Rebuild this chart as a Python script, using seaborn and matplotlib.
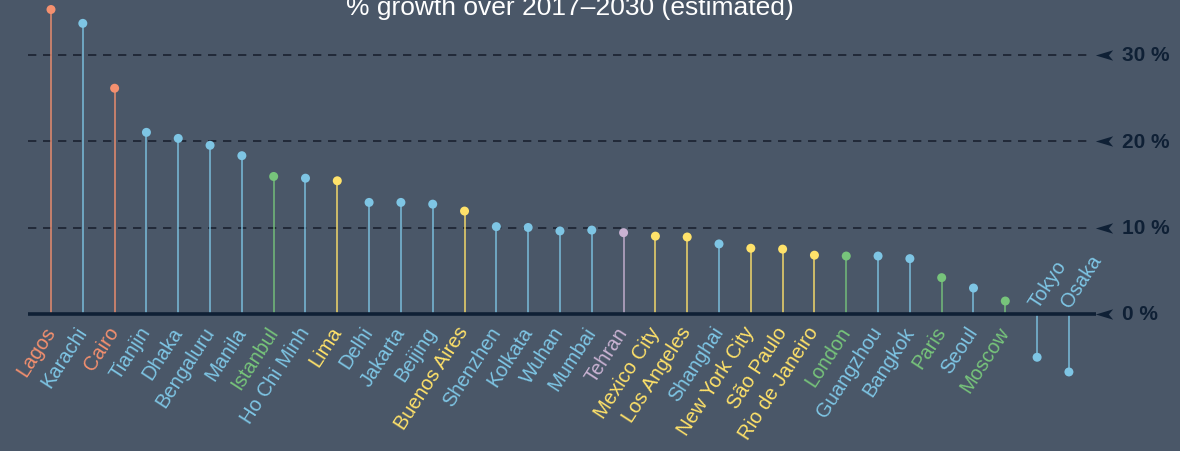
import numpy as np
import pandas as pd
import seaborn as sns
import matplotlib.pyplot as plt
from matplotlib.path import Path

# ==========================================
# DATA
# ==========================================
cities = ['Lagos', 'Karachi', 'Cairo', 'Tianjin', 'Dhaka', 'Bengaluru', 'Manila',
          'Istanbul', 'Ho Chi Minh', 'Lima', 'Delhi', 'Jakarta', 'Beijing',
          'Buenos Aires', 'Shenzhen', 'Kolkata', 'Wuhan', 'Mumbai', 'Tehran',
          'Mexico City', 'Los Angeles', 'Shanghai', 'New York City', 'São Paulo',
          'Rio de Janeiro', 'London', 'Guangzhou', 'Bangkok', 'Paris', 'Seoul',
          'Moscow', 'Tokyo', 'Osaka']
growth = [35.2, 33.6, 26.1, 21.0, 20.3, 19.5, 18.3,
          15.9, 15.7, 15.4, 12.9, 12.9, 12.7,
          11.9, 10.1, 10.0, 9.6, 9.7, 9.4,
          9.0, 8.9, 8.1, 7.6, 7.5,
          6.8, 6.7, 6.7, 6.4, 4.2, 3.0,
          1.5, -5.0, -6.7]
region = ['Africa', 'Asia', 'Africa', 'Asia', 'Asia', 'Asia', 'Asia',
          'Europe', 'Asia', 'Americas', 'Asia', 'Asia', 'Asia',
          'Americas', 'Asia', 'Asia', 'Asia', 'Asia', 'Middle East',
          'Americas', 'Americas', 'Asia', 'Americas', 'Americas',
          'Americas', 'Europe', 'Asia', 'Asia', 'Europe', 'Asia',
          'Europe', 'Asia', 'Asia']
ytick_values = [0, 10, 20, 30]
ytick_labels = ['0 %', '10 %', '20 %', '30 %']
title = '% growth over 2017\u20132030 (estimated)'

palette = {'Africa': '#F4906F', 'Asia': '#7EC5E4', 'Europe': '#77C47B',
           'Americas': '#FFE26A', 'Middle East': '#C9B2D2'}
bg = '#4A5768'
dark = '#0F2035'

df = pd.DataFrame({'city': cities, 'growth': growth, 'region': region})
df['pos'] = np.arange(len(df))

# ==========================================
# PLOT
# ==========================================
sns.set_style('white')
plt.rcParams['font.family'] = ['Liberation Sans', 'DejaVu Sans']

fig = plt.figure(figsize=(11.8, 4.52), dpi=100, facecolor=bg)
ax = fig.add_axes([0, 0, 1, 1])
ax.set_facecolor(bg)

# grid lines + zero line
for v in ytick_values[1:]:
    ax.hlines(v, -0.72, 32.72, color='#1A2230', lw=1.2, linestyles=(0, (5, 4)), zorder=1)
ax.hlines(0, -0.72, 32.85, color=dark, lw=2.6, zorder=4)

# stems
for _, r in df.iterrows():
    ax.vlines(r['pos'], 0, r['growth'], color=palette[r['region']], lw=1.2, alpha=0.85, zorder=2)

# dots
sns.scatterplot(data=df, x='pos', y='growth', hue='region', palette=palette,
                s=42, linewidth=0, legend=False, ax=ax, zorder=3)

# arrow markers + right labels
arrow = Path([(-1, 0), (1, 0.6), (0.5, 0), (1, -0.6), (-1, 0)],
             [Path.MOVETO, Path.LINETO, Path.LINETO, Path.LINETO, Path.CLOSEPOLY])
for v, lab in zip(ytick_values, ytick_labels):
    ax.plot([33.09], [v], marker=arrow, ms=12.5, color=dark, mew=0, zorder=5)
    ax.text(33.67, v, lab, color=dark, fontsize=15, fontweight='bold',
            va='center', ha='left')

# city labels
for _, r in df.iterrows():
    c = palette[r['region']]
    if r['growth'] >= 0:
        ax.text(r['pos'] + 0.0, -1.6, r['city'], color=c, fontsize=14.5,
                rotation=57, rotation_mode='anchor', ha='right', va='center')
    else:
        ax.text(r['pos'] - 0.12, 1.0, r['city'], color=c, fontsize=14.5,
                rotation=57, rotation_mode='anchor', ha='left', va='center')

ax.set_xlim(-51 / 31.81, (1180 - 51) / 31.81)
ax.set_ylim(-(452 - 315) / 8.65, 315 / 8.65)
ax.axis('off')

fig.text(0.483, 1 - 15 / 452, title, color='white', fontsize=19,
         ha='center', va='baseline')

fig.savefig('out.png', dpi=100, facecolor=bg)
